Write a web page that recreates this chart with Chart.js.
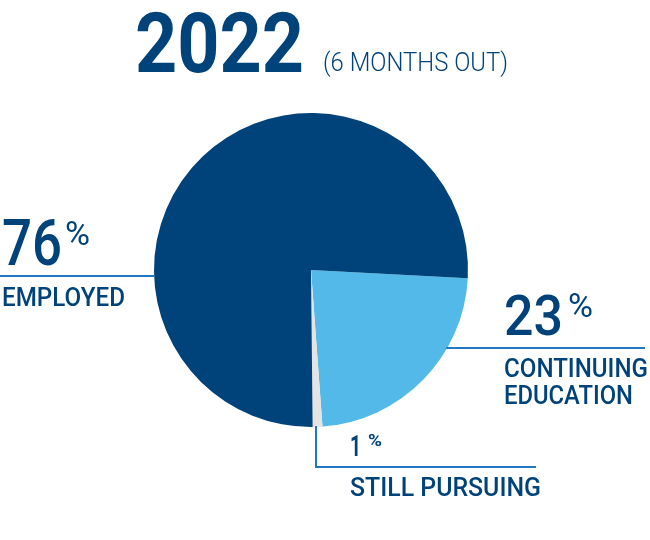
<!DOCTYPE html>
<html lang="en">
  <head>
    <meta charset="UTF-8" />
    <title>2022 (6 months out)</title>
    <script src="https://cdn.jsdelivr.net/npm/chart.js"></script>
    <style>
      html, body { margin: 0; padding: 0; background: #fff; }
      #wrap { width: 650px; height: 540px; }
    </style>
  </head>
  <body>
    <div id="wrap"><canvas id="pie" width="650" height="540"></canvas></div>

    <script>
      // data
      const title = "2022";
      const subtitle = "(6 MONTHS OUT)";
      const categories = ["CONTINUING EDUCATION", "STILL PURSUING", "EMPLOYED"];
      const values = [23, 1, 76];
      const sliceColors = ["#52b9e9", "#e6e4e2", "#00427a"];

      const DARK = "#00427a";
      const LINE = "#1f78c1";
      const FONT = "Roboto, 'Liberation Sans', sans-serif";

      // draws text squeezed/stretched to a given width (DIN-like narrow face)
      function fitText(ctx, text, x, y, size, weight, width) {
        ctx.save();
        ctx.font = weight + " " + size + "px " + FONT;
        const w = ctx.measureText(text).width;
        ctx.translate(x, y);
        ctx.scale(width / w, 1);
        ctx.fillText(text, 0, 0);
        ctx.restore();
      }

      // point on the pie rim for a given y (left/right) or x (bottom)
      function rimX(arc, y, side) {
        const dy = y - arc.y;
        return arc.x + side * Math.sqrt(arc.outerRadius ** 2 - dy * dy);
      }
      function rimY(arc, x) {
        const dx = x - arc.x;
        return arc.y + Math.sqrt(arc.outerRadius ** 2 - dx * dx);
      }

      const annotations = {
        id: "annotations",
        afterDraw(chart) {
          const ctx = chart.ctx;
          const arc = chart.getDatasetMeta(0).data[0];
          ctx.save();
          ctx.fillStyle = DARK;
          ctx.textBaseline = "alphabetic";
          ctx.textAlign = "left";

          // title
          fitText(ctx, title, 135, 72, 84, "bold", 169);
          fitText(ctx, subtitle, 323, 71, 26, "300", 185);

          // leader lines
          ctx.strokeStyle = LINE;
          ctx.lineWidth = 2;
          ctx.beginPath();
          ctx.moveTo(0, 276);
          ctx.lineTo(rimX(arc, 276, -1), 276);
          ctx.moveTo(rimX(arc, 348, 1) - 1, 348);
          ctx.lineTo(645, 348);
          ctx.moveTo(316, rimY(arc, 316) - 1);
          ctx.lineTo(316, 467);
          ctx.lineTo(536, 467);
          ctx.stroke();

          // employed
          fitText(ctx, String(values[2]), 2, 265, 64, "500", 60);
          fitText(ctx, "%", 65, 245, 34, "400", 25);
          fitText(ctx, categories[2], 2, 306, 25, "500", 123);

          // continuing education
          fitText(ctx, String(values[0]), 504, 335, 56, "500", 59);
          fitText(ctx, "%", 568, 317, 33, "400", 25);
          const ce = categories[0].split(" ");
          fitText(ctx, ce[0], 504, 377, 25, "500", 144);
          fitText(ctx, ce[1], 504, 404, 25, "500", 129);

          // still pursuing
          fitText(ctx, String(values[1]), 350, 456, 30, "bold", 11);
          fitText(ctx, "%", 368, 446, 17, "bold", 14);
          fitText(ctx, categories[1], 350, 496, 25, "500", 191);

          ctx.restore();
        },
      };

      new Chart(document.getElementById("pie"), {
        type: "pie",
        data: {
          labels: categories,
          datasets: [
            {
              data: values,
              backgroundColor: sliceColors,
              borderWidth: 0,
            },
          ],
        },
        options: {
          responsive: false,
          animation: false,
          rotation: 93,
          layout: { padding: { left: 154, right: 182, top: 113, bottom: 113 } },
          plugins: {
            legend: { display: false },
            tooltip: { enabled: false },
          },
        },
        plugins: [annotations],
      });
    </script>
  </body>
</html>
